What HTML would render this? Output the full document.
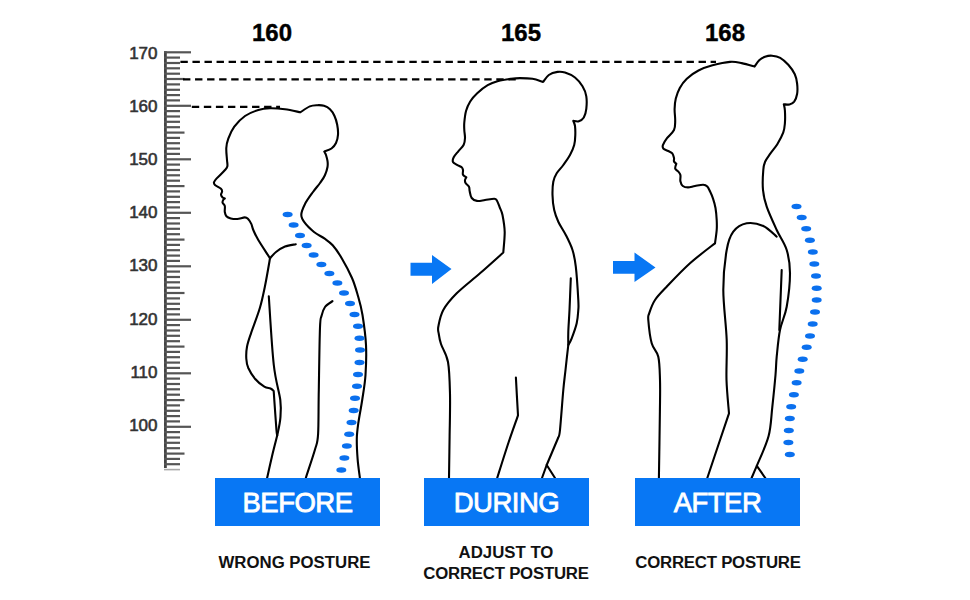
<!DOCTYPE html>
<html><head><meta charset="utf-8"><style>
html,body{margin:0;padding:0;background:#fff;}
body{width:970px;height:600px;overflow:hidden;position:relative;}
svg{position:absolute;left:0;top:0;}
.lbl{position:absolute;height:48px;top:478px;background:#0877f4;color:#fff;font-family:"Liberation Sans",sans-serif;font-size:27.5px;line-height:50px;-webkit-text-stroke:0.8px #fff;letter-spacing:-0.5px;text-align:center;}
.cap{position:absolute;font-family:"Liberation Sans",sans-serif;font-weight:bold;font-size:16.8px;color:#111;text-align:center;line-height:21px;}
.num{position:absolute;font-family:"Liberation Sans",sans-serif;font-weight:bold;font-size:24px;color:#000;-webkit-text-stroke:0.4px #000;text-align:center;line-height:26px;top:20px;}
</style></head><body>
<svg width="970" height="600" viewBox="0 0 970 600">
<g stroke="#555" stroke-width="2.2">
<line x1="165.4" y1="51.3" x2="165.4" y2="468" stroke="#444" stroke-width="2.8"/>
<line x1="164" y1="52.3" x2="191.0" y2="52.3"/><line x1="164" y1="57.6" x2="180.0" y2="57.6"/><line x1="164" y1="63.0" x2="180.0" y2="63.0"/><line x1="164" y1="68.3" x2="180.0" y2="68.3"/><line x1="164" y1="73.7" x2="180.0" y2="73.7"/><line x1="164" y1="79.0" x2="184.5" y2="79.0"/><line x1="164" y1="84.4" x2="180.0" y2="84.4"/><line x1="164" y1="89.8" x2="180.0" y2="89.8"/><line x1="164" y1="95.1" x2="180.0" y2="95.1"/><line x1="164" y1="100.4" x2="180.0" y2="100.4"/><line x1="164" y1="105.8" x2="191.0" y2="105.8"/><line x1="164" y1="111.1" x2="180.0" y2="111.1"/><line x1="164" y1="116.5" x2="180.0" y2="116.5"/><line x1="164" y1="121.8" x2="180.0" y2="121.8"/><line x1="164" y1="127.2" x2="180.0" y2="127.2"/><line x1="164" y1="132.6" x2="184.5" y2="132.6"/><line x1="164" y1="137.9" x2="180.0" y2="137.9"/><line x1="164" y1="143.2" x2="180.0" y2="143.2"/><line x1="164" y1="148.6" x2="180.0" y2="148.6"/><line x1="164" y1="153.9" x2="180.0" y2="153.9"/><line x1="164" y1="159.3" x2="191.0" y2="159.3"/><line x1="164" y1="164.6" x2="180.0" y2="164.6"/><line x1="164" y1="170.0" x2="180.0" y2="170.0"/><line x1="164" y1="175.3" x2="180.0" y2="175.3"/><line x1="164" y1="180.7" x2="180.0" y2="180.7"/><line x1="164" y1="186.1" x2="184.5" y2="186.1"/><line x1="164" y1="191.4" x2="180.0" y2="191.4"/><line x1="164" y1="196.8" x2="180.0" y2="196.8"/><line x1="164" y1="202.1" x2="180.0" y2="202.1"/><line x1="164" y1="207.4" x2="180.0" y2="207.4"/><line x1="164" y1="212.8" x2="191.0" y2="212.8"/><line x1="164" y1="218.1" x2="180.0" y2="218.1"/><line x1="164" y1="223.5" x2="180.0" y2="223.5"/><line x1="164" y1="228.8" x2="180.0" y2="228.8"/><line x1="164" y1="234.2" x2="180.0" y2="234.2"/><line x1="164" y1="239.6" x2="184.5" y2="239.6"/><line x1="164" y1="244.9" x2="180.0" y2="244.9"/><line x1="164" y1="250.2" x2="180.0" y2="250.2"/><line x1="164" y1="255.6" x2="180.0" y2="255.6"/><line x1="164" y1="260.9" x2="180.0" y2="260.9"/><line x1="164" y1="266.3" x2="191.0" y2="266.3"/><line x1="164" y1="271.6" x2="180.0" y2="271.6"/><line x1="164" y1="277.0" x2="180.0" y2="277.0"/><line x1="164" y1="282.3" x2="180.0" y2="282.3"/><line x1="164" y1="287.7" x2="180.0" y2="287.7"/><line x1="164" y1="293.0" x2="184.5" y2="293.0"/><line x1="164" y1="298.4" x2="180.0" y2="298.4"/><line x1="164" y1="303.8" x2="180.0" y2="303.8"/><line x1="164" y1="309.1" x2="180.0" y2="309.1"/><line x1="164" y1="314.4" x2="180.0" y2="314.4"/><line x1="164" y1="319.8" x2="191.0" y2="319.8"/><line x1="164" y1="325.1" x2="180.0" y2="325.1"/><line x1="164" y1="330.5" x2="180.0" y2="330.5"/><line x1="164" y1="335.8" x2="180.0" y2="335.8"/><line x1="164" y1="341.2" x2="180.0" y2="341.2"/><line x1="164" y1="346.6" x2="184.5" y2="346.6"/><line x1="164" y1="351.9" x2="180.0" y2="351.9"/><line x1="164" y1="357.2" x2="180.0" y2="357.2"/><line x1="164" y1="362.6" x2="180.0" y2="362.6"/><line x1="164" y1="367.9" x2="180.0" y2="367.9"/><line x1="164" y1="373.3" x2="191.0" y2="373.3"/><line x1="164" y1="378.6" x2="180.0" y2="378.6"/><line x1="164" y1="384.0" x2="180.0" y2="384.0"/><line x1="164" y1="389.3" x2="180.0" y2="389.3"/><line x1="164" y1="394.7" x2="180.0" y2="394.7"/><line x1="164" y1="400.1" x2="184.5" y2="400.1"/><line x1="164" y1="405.4" x2="180.0" y2="405.4"/><line x1="164" y1="410.8" x2="180.0" y2="410.8"/><line x1="164" y1="416.1" x2="180.0" y2="416.1"/><line x1="164" y1="421.4" x2="180.0" y2="421.4"/><line x1="164" y1="426.8" x2="191.0" y2="426.8"/><line x1="164" y1="432.1" x2="180.0" y2="432.1"/><line x1="164" y1="437.5" x2="180.0" y2="437.5"/><line x1="164" y1="442.8" x2="180.0" y2="442.8"/><line x1="164" y1="448.2" x2="180.0" y2="448.2"/><line x1="164" y1="453.6" x2="184.5" y2="453.6"/><line x1="164" y1="458.9" x2="180.0" y2="458.9"/><line x1="164" y1="464.2" x2="180.0" y2="464.2"/><line x1="164" y1="469.6" x2="180.0" y2="469.6" stroke="#aaa" stroke-width="1.6"/>
</g>
<g font-family="Liberation Sans, sans-serif" font-size="17" fill="#333" stroke="#333" stroke-width="0.6" text-anchor="end">
<text x="157.5" y="58.5">170</text><text x="157.5" y="111.7">160</text><text x="157.5" y="164.9">150</text><text x="157.5" y="218.1">140</text><text x="157.5" y="271.3">130</text><text x="157.5" y="324.5">120</text><text x="157.5" y="377.7">110</text><text x="157.5" y="430.9">100</text>
</g>
<g stroke="#000" stroke-width="2.2" stroke-dasharray="7.4 4.65" fill="none">
<line x1="180.4" y1="61.9" x2="716" y2="61.9"/>
<line x1="183" y1="79.3" x2="520" y2="79.3"/>
<line x1="191.8" y1="106.9" x2="280" y2="106.9"/>
</g>
<g fill="none" stroke="#000" stroke-width="2.1" stroke-linejoin="round" stroke-linecap="round">
<path d="M270.0 258.3 C268.1 255.2 261.1 244.7 258.3 240.0 C255.5 235.3 254.5 232.7 253.3 230.0 C252.1 227.3 252.2 225.7 251.3 223.9 C250.4 222.1 249.2 220.1 248.1 219.0 C247.0 217.9 246.6 217.4 244.8 217.4 C243.0 217.4 239.6 218.8 237.3 219.0 C235.0 219.2 232.6 218.9 230.8 218.5 C229.0 218.1 227.4 217.4 226.4 216.3 C225.4 215.2 225.1 213.7 224.8 212.0 C224.5 210.3 225.2 207.5 224.8 206.0 C224.4 204.5 222.9 203.8 222.6 202.8 C222.3 201.8 222.8 200.8 223.2 200.1 C223.6 199.4 224.5 198.8 224.8 198.5 C224.4 198.3 223.2 198.0 222.6 197.4 C222.0 196.8 221.1 195.7 221.0 194.7 C220.9 193.7 222.1 192.4 222.1 191.4 C222.1 190.4 222.2 189.8 221.0 188.7 C219.8 187.6 216.2 186.0 215.0 184.9 C213.8 183.8 213.7 183.3 214.0 182.2 C214.3 181.1 215.0 180.3 216.7 178.4 C218.4 176.5 222.5 172.8 224.3 170.8 C226.1 168.8 226.9 168.3 227.3 166.5 C227.8 164.7 227.2 163.1 227.0 160.0 C226.8 156.9 226.1 151.6 226.3 148.0 C226.5 144.4 227.0 142.2 228.3 138.7 C229.6 135.1 231.5 130.5 234.3 126.7 C237.1 122.9 241.0 118.8 245.0 116.0 C249.0 113.2 254.1 111.3 258.3 110.0 C262.5 108.7 265.6 108.4 270.0 108.3 C274.4 108.2 279.9 108.6 285.0 109.3 C290.1 110.0 297.8 111.8 300.4 112.3 C302.0 111.3 306.9 107.6 309.8 106.4 C312.6 105.2 314.9 105.3 317.3 105.2 C319.7 105.1 321.9 105.1 324.0 105.8 C326.1 106.5 328.2 107.6 330.0 109.3 C331.8 111.0 333.3 113.4 334.5 116.0 C335.7 118.6 336.6 121.6 337.2 124.7 C337.8 127.8 338.2 131.6 338.0 134.7 C337.8 137.8 337.1 140.7 336.0 143.0 C334.9 145.3 333.4 147.1 331.5 148.5 C329.6 149.9 325.5 151.1 324.3 151.6 C324.6 152.2 325.5 153.4 326.0 155.0 C326.5 156.6 327.2 159.0 327.5 161.0 C327.8 163.0 327.9 164.7 327.5 167.0 C327.1 169.3 326.2 172.3 325.0 175.0 C323.8 177.7 322.0 180.2 320.0 183.0 C318.0 185.8 315.5 188.5 313.0 192.0 C310.5 195.5 306.9 200.2 305.0 204.0 C303.1 207.8 301.4 211.6 301.3 214.7 C301.2 217.8 302.6 219.8 304.7 222.7 C306.8 225.6 310.7 229.3 314.0 232.0 C317.3 234.7 321.6 236.5 324.7 238.7 C327.8 240.9 329.8 242.0 332.7 245.3 C335.6 248.6 338.8 253.2 342.0 258.7 C345.2 264.1 349.3 271.8 352.0 278.0 C354.7 284.2 356.2 289.8 358.0 296.0 C359.8 302.2 361.2 306.8 362.5 315.0 C363.8 323.2 365.5 335.0 366.0 345.0 C366.5 355.0 366.1 365.8 365.5 375.0 C364.9 384.2 363.4 392.0 362.2 400.0 C361.0 408.0 359.2 416.8 358.3 423.2 C357.4 429.6 356.9 432.8 356.8 438.7 C356.7 444.6 357.1 452.2 357.6 458.8 C358.1 465.4 359.5 474.8 359.9 478.0"/>
<path d="M295.8 244.2 C294.0 244.6 288.3 245.2 285.0 246.5 C281.7 247.8 278.5 250.0 276.0 252.0 C273.5 254.0 271.0 257.2 270.0 258.3 C269.2 262.9 266.7 277.8 265.0 286.0 C263.3 294.2 262.3 299.6 260.0 307.5 C257.7 315.4 253.2 326.8 251.0 333.3 C248.8 339.8 247.8 342.5 247.0 346.7 C246.2 350.9 246.1 355.1 246.3 358.7 C246.5 362.2 246.9 364.7 248.3 368.0 C249.8 371.3 252.3 375.6 255.0 378.7 C257.7 381.8 261.7 385.1 264.3 386.7 C266.9 388.3 268.9 387.8 270.5 388.5 C272.1 389.2 273.2 390.6 273.7 391.0 C273.8 392.5 273.9 393.6 274.3 400.0 C274.8 406.4 275.9 423.5 276.4 429.4 C276.9 435.3 277.1 434.6 277.2 435.6 C276.3 439.2 273.4 450.1 271.8 457.2 C270.1 464.3 267.9 474.5 267.1 478.0"/>
<path d="M268.8 296.2 C269.6 307.7 271.8 347.7 273.8 365.0 C275.7 382.3 279.2 391.1 280.3 400.0 C281.4 408.9 280.8 412.7 280.3 418.6 C279.8 424.5 277.7 432.8 277.2 435.6"/>
<path d="M332.5 301.2 C331.2 302.2 326.8 304.5 325.0 307.0 C323.2 309.5 322.3 312.6 321.5 316.0 C320.7 319.4 320.5 315.2 320.0 327.5 C319.5 339.8 319.1 372.2 318.8 390.0 C318.4 407.8 318.7 424.1 318.1 434.0 C317.5 443.9 317.1 442.2 315.0 449.5 C312.9 456.8 307.3 473.2 305.8 478.0"/>
<path d="M449.0 478.0 C449.1 471.1 449.4 450.7 449.6 436.7 C449.8 422.7 450.3 406.4 450.0 394.0 C449.7 381.6 449.5 370.3 448.0 362.0 C446.5 353.7 442.5 348.7 441.0 344.0 C439.5 339.3 439.2 336.9 438.8 334.0 C438.4 331.1 437.6 330.7 438.3 326.7 C439.1 322.7 440.2 315.6 443.3 310.0 C446.4 304.4 450.6 299.4 456.7 293.3 C462.8 287.2 472.2 280.1 480.0 273.3 C487.8 266.5 499.4 256.0 503.3 252.5 C503.5 249.1 504.8 238.2 504.7 232.0 C504.6 225.8 503.3 219.1 502.5 215.0 C501.7 210.9 500.6 209.7 499.7 207.3 C498.8 204.9 497.9 202.1 497.0 200.7 C496.1 199.3 496.3 198.8 494.3 198.7 C492.3 198.6 487.9 199.6 485.0 200.0 C482.1 200.4 479.2 201.2 477.0 200.9 C474.8 200.6 472.9 199.6 471.7 198.0 C470.5 196.4 470.1 193.2 469.7 191.3 C469.2 189.4 469.7 188.0 469.0 186.7 C468.3 185.4 466.4 184.4 465.7 183.3 C465.0 182.2 464.9 181.0 465.0 180.0 C465.1 179.0 466.1 177.8 466.3 177.3 C465.8 176.9 463.6 175.9 463.0 174.7 C462.4 173.5 463.2 171.2 463.0 170.0 C462.8 168.8 462.7 168.2 461.7 167.3 C460.7 166.5 458.4 165.8 457.0 164.9 C455.6 164.0 453.6 163.3 453.0 162.0 C452.4 160.7 452.8 159.1 453.7 157.3 C454.6 155.5 456.6 153.4 458.3 151.3 C460.0 149.2 462.6 146.9 463.7 144.7 C464.8 142.5 464.9 140.4 465.0 138.0 C465.1 135.6 464.4 132.6 464.3 130.0 C464.2 127.4 464.0 125.7 464.3 122.5 C464.6 119.3 465.1 114.3 466.1 110.8 C467.1 107.3 468.4 104.4 470.2 101.5 C472.0 98.6 474.3 96.0 477.2 93.3 C480.1 90.6 484.2 87.2 487.7 85.2 C491.2 83.2 494.3 82.2 498.2 81.1 C502.1 80.0 507.4 79.3 511.0 78.8 C514.6 78.3 516.4 78.1 520.0 78.1 C523.6 78.1 528.6 78.2 532.5 78.8 C536.4 79.4 541.3 81.4 543.1 81.9 C544.0 80.8 546.4 76.7 548.8 75.0 C551.2 73.3 554.8 72.3 557.5 71.9 C560.2 71.5 562.1 71.6 565.0 72.5 C567.9 73.4 572.1 75.2 575.0 77.5 C577.9 79.8 580.6 83.2 582.5 86.3 C584.4 89.4 585.7 92.5 586.3 96.3 C586.9 100.0 586.7 105.3 586.3 108.8 C585.9 112.3 585.0 115.4 583.8 117.5 C582.5 119.6 580.5 120.8 578.8 121.3 C577.0 121.8 574.2 120.9 573.3 120.8 C573.6 121.7 574.7 123.6 575.0 126.0 C575.3 128.4 575.4 131.8 575.3 135.0 C575.2 138.2 575.1 141.7 574.2 145.0 C573.3 148.3 571.8 151.7 570.0 155.0 C568.2 158.3 565.5 161.9 563.3 165.0 C561.1 168.1 558.4 170.5 556.7 173.3 C555.0 176.1 554.0 178.1 553.3 181.7 C552.6 185.3 552.4 190.3 552.5 195.0 C552.6 199.7 553.2 205.6 554.2 210.0 C555.2 214.4 556.4 217.5 558.3 221.7 C560.2 225.9 563.4 230.3 565.8 235.0 C568.2 239.7 570.8 244.7 572.5 250.0 C574.2 255.3 574.8 258.4 575.8 266.7 C576.8 275.0 577.9 292.8 578.3 300.0 C578.7 307.2 578.6 306.1 578.3 310.0 C578.0 313.9 577.8 318.6 576.7 323.3 C575.6 328.0 573.1 334.7 571.7 338.3 C570.3 341.9 568.9 343.9 568.3 345.0 C567.8 349.2 566.3 362.5 565.5 370.0 C564.7 377.5 564.2 380.0 563.3 390.0 C562.4 400.0 560.8 422.1 560.0 430.0 C559.2 437.9 558.6 436.2 558.3 437.5 C556.4 442.1 548.6 460.4 546.7 465.0 C545.9 467.2 542.8 475.8 542.0 478.0"/>
<path d="M546.7 465.0 C548.1 467.2 553.6 475.8 555.0 478.0"/>
<path d="M570.8 278.3 C570.6 283.6 569.9 301.1 569.5 310.0 C569.1 318.9 568.5 325.9 568.3 331.7 C568.1 337.5 568.3 342.8 568.3 345.0"/>
<path d="M515.9 377.5 C516.2 383.8 517.6 409.0 518.0 415.3 C516.5 419.8 512.2 431.6 508.7 442.0 C505.2 452.4 499.1 472.0 497.2 478.0"/>
<path d="M658.9 478.0 C659.1 466.9 659.7 427.5 659.9 411.2 C660.1 394.9 660.3 389.1 660.0 380.0 C659.7 370.9 659.7 362.8 658.3 356.7 C656.9 350.6 653.4 349.4 651.7 343.3 C650.0 337.2 648.7 325.0 648.3 320.0 C647.9 315.0 648.1 316.6 649.2 313.3 C650.3 310.0 652.1 304.4 655.0 300.0 C657.9 295.6 660.9 292.8 666.7 286.7 C672.5 280.6 682.0 270.5 690.0 263.3 C698.0 256.1 710.8 246.6 715.0 243.3 C715.3 241.1 716.4 233.9 716.7 230.0 C717.0 226.1 716.9 223.7 716.7 220.0 C716.5 216.3 716.1 211.5 715.5 208.0 C714.9 204.5 714.0 201.5 713.1 198.8 C712.2 196.1 711.2 193.8 710.2 191.8 C709.2 189.8 708.5 187.8 707.3 186.6 C706.1 185.4 705.2 184.9 703.2 184.8 C701.2 184.7 697.5 185.6 695.0 186.0 C692.5 186.4 690.0 187.4 688.0 187.4 C686.0 187.4 684.1 187.0 682.8 186.0 C681.5 185.0 680.8 183.2 680.4 181.3 C680.0 179.5 680.8 176.6 680.4 174.9 C680.0 173.2 679.0 172.5 678.1 171.4 C677.2 170.3 675.5 169.8 675.2 168.5 C674.9 167.2 676.1 164.6 676.3 163.8 C675.9 163.4 674.4 162.5 674.0 161.5 C673.6 160.5 674.3 159.4 674.0 158.0 C673.7 156.6 673.3 154.5 672.3 153.3 C671.3 152.1 669.7 151.8 668.2 151.0 C666.7 150.2 664.4 149.7 663.5 148.7 C662.6 147.7 662.3 146.9 662.9 145.2 C663.5 143.4 665.1 140.7 667.0 138.2 C668.9 135.7 672.6 132.9 674.0 130.0 C675.4 127.1 675.1 124.2 675.2 120.7 C675.3 117.2 674.5 112.7 674.6 109.0 C674.7 105.3 674.9 102.0 675.8 98.5 C676.7 95.0 678.0 91.3 679.8 88.0 C681.6 84.7 683.7 81.6 686.8 78.7 C689.9 75.8 694.2 72.7 698.5 70.5 C702.8 68.3 707.2 66.7 712.5 65.3 C717.8 63.9 725.1 62.3 730.0 61.9 C734.9 61.5 737.6 62.3 741.7 63.1 C745.8 63.9 752.4 66.0 754.5 66.6 C755.3 65.5 757.5 61.9 759.2 60.2 C761.0 58.6 762.9 57.5 765.0 56.7 C767.1 56.0 769.5 55.5 772.0 55.7 C774.5 55.9 777.5 56.3 780.2 57.8 C782.9 59.3 785.9 62.1 788.3 64.8 C790.7 67.5 793.3 71.1 794.8 74.2 C796.3 77.3 796.7 80.2 797.1 83.5 C797.5 86.8 797.6 91.0 797.1 94.0 C796.6 97.0 795.5 99.8 794.2 101.6 C792.9 103.3 791.2 104.1 789.5 104.5 C787.8 104.9 784.8 104.2 783.8 104.2 C784.0 105.2 784.7 107.3 784.9 110.5 C785.1 113.7 785.2 119.6 784.9 123.3 C784.6 127.0 784.5 129.2 783.2 132.7 C781.9 136.2 779.4 140.8 777.3 144.3 C775.1 147.8 772.3 150.8 770.3 153.7 C768.3 156.6 766.3 159.1 765.1 161.8 C763.9 164.5 763.6 165.3 763.3 170.0 C762.9 174.7 762.4 183.9 763.0 190.0 C763.6 196.1 764.4 200.0 766.7 206.7 C769.0 213.4 773.4 222.8 776.7 230.0 C780.0 237.2 784.5 242.8 786.7 250.0 C788.9 257.2 790.0 263.9 790.0 273.3 C790.0 282.8 788.4 297.2 786.7 306.7 C785.0 316.1 781.7 321.7 780.0 330.0 C778.3 338.3 777.5 349.2 776.7 356.7 C776.0 364.2 776.2 366.6 775.5 375.0 C774.8 383.4 773.4 396.9 772.3 407.1 C771.1 417.3 771.2 426.2 768.6 436.0 C766.0 445.8 758.8 460.9 756.8 465.9 C755.9 467.9 752.5 476.0 751.6 478.0"/>
<path d="M756.8 465.9 C758.2 467.9 763.9 476.0 765.3 478.0"/>
<path d="M776.7 236.7 C774.5 234.9 768.3 228.2 763.3 226.0 C758.3 223.8 751.7 222.4 746.7 223.3 C741.7 224.2 736.6 227.2 733.3 231.7 C730.0 236.1 728.4 240.3 726.7 250.0 C725.0 259.7 723.3 275.0 723.3 290.0 C723.3 305.0 726.2 325.0 726.7 340.0 C727.2 355.0 726.1 367.8 726.5 380.0 C726.9 392.2 728.6 407.8 729.0 413.3 C727.6 417.4 724.3 427.2 720.7 438.0 C717.1 448.8 709.5 471.3 707.3 478.0"/>
<path d="M781.7 270.0 C781.3 280.0 779.7 320.0 779.3 330.0"/>
</g>
<g fill="#0b70ee">
<ellipse cx="287.6" cy="214.4" rx="5" ry="2.75"/>
<ellipse cx="293.6" cy="225.0" rx="5" ry="2.75"/>
<ellipse cx="300.0" cy="235.4" rx="5" ry="2.75"/>
<ellipse cx="306.6" cy="245.4" rx="5" ry="2.75"/>
<ellipse cx="313.6" cy="255.0" rx="5" ry="2.75"/>
<ellipse cx="321.4" cy="264.6" rx="5" ry="2.75"/>
<ellipse cx="329.4" cy="273.6" rx="5" ry="2.75"/>
<ellipse cx="337.4" cy="283.0" rx="5" ry="2.75"/>
<ellipse cx="344.0" cy="293.0" rx="5" ry="2.75"/>
<ellipse cx="350.0" cy="303.4" rx="5" ry="2.75"/>
<ellipse cx="354.5" cy="314.5" rx="5" ry="2.75"/>
<ellipse cx="358.0" cy="326.2" rx="5" ry="2.75"/>
<ellipse cx="359.5" cy="338.2" rx="5" ry="2.75"/>
<ellipse cx="360.0" cy="350.0" rx="5" ry="2.75"/>
<ellipse cx="359.5" cy="362.5" rx="5" ry="2.75"/>
<ellipse cx="358.0" cy="374.5" rx="5" ry="2.75"/>
<ellipse cx="357.0" cy="386.2" rx="5" ry="2.75"/>
<ellipse cx="355.0" cy="398.2" rx="5" ry="2.75"/>
<ellipse cx="353.7" cy="410.5" rx="5" ry="2.75"/>
<ellipse cx="351.5" cy="422.4" rx="5" ry="2.75"/>
<ellipse cx="349.2" cy="434.3" rx="5" ry="2.75"/>
<ellipse cx="346.9" cy="446.1" rx="5" ry="2.75"/>
<ellipse cx="344.4" cy="458.0" rx="5" ry="2.75"/>
<ellipse cx="341.3" cy="469.9" rx="5" ry="2.75"/>
<ellipse cx="796.5" cy="206.5" rx="5" ry="2.75"/>
<ellipse cx="801.7" cy="217.4" rx="5" ry="2.75"/>
<ellipse cx="806.2" cy="228.7" rx="5" ry="2.75"/>
<ellipse cx="809.9" cy="240.2" rx="5" ry="2.75"/>
<ellipse cx="812.8" cy="252.1" rx="5" ry="2.75"/>
<ellipse cx="814.3" cy="264.0" rx="5" ry="2.75"/>
<ellipse cx="816.0" cy="276.0" rx="5" ry="2.75"/>
<ellipse cx="816.7" cy="288.3" rx="5" ry="2.75"/>
<ellipse cx="816.7" cy="300.0" rx="5" ry="2.75"/>
<ellipse cx="815.0" cy="312.0" rx="5" ry="2.75"/>
<ellipse cx="812.7" cy="324.0" rx="5" ry="2.75"/>
<ellipse cx="810.0" cy="336.0" rx="5" ry="2.75"/>
<ellipse cx="806.7" cy="347.3" rx="5" ry="2.75"/>
<ellipse cx="802.7" cy="359.3" rx="5" ry="2.75"/>
<ellipse cx="799.3" cy="371.0" rx="5" ry="2.75"/>
<ellipse cx="796.6" cy="382.8" rx="5" ry="2.75"/>
<ellipse cx="793.9" cy="394.7" rx="5" ry="2.75"/>
<ellipse cx="791.2" cy="406.7" rx="5" ry="2.75"/>
<ellipse cx="789.8" cy="418.5" rx="5" ry="2.75"/>
<ellipse cx="788.8" cy="430.4" rx="5" ry="2.75"/>
<ellipse cx="788.4" cy="442.6" rx="5" ry="2.75"/>
<ellipse cx="789.8" cy="454.5" rx="5" ry="2.75"/>
</g>
<g fill="#0877f4">
<path d="M410.5 262.8 H432 V255 L451.5 269 L432 284 V275.8 H410.5 Z"/>
<path d="M613 261 H634.5 V252.5 L655.5 267.5 L634.5 282 V273.8 H613 Z"/>
</g>
</svg>
<div class="num" style="left:232px;width:80px;">160</div>
<div class="num" style="left:481px;width:80px;">165</div>
<div class="num" style="left:685px;width:80px;">168</div>
<div class="lbl" style="left:215px;width:165px;">BEFORE</div>
<div class="lbl" style="left:424px;width:165px;">DURING</div>
<div class="lbl" style="left:635px;width:165px;">AFTER</div>
<div class="cap" style="left:189.5px;width:210px;top:552px;">WRONG POSTURE</div>
<div class="cap" style="left:401px;width:210px;top:542px;">ADJUST TO<br><span style="letter-spacing:-0.22px">CORRECT POSTURE</span></div>
<div class="cap" style="left:613px;width:210px;top:552px;letter-spacing:-0.22px;">CORRECT POSTURE</div>
</body></html>
